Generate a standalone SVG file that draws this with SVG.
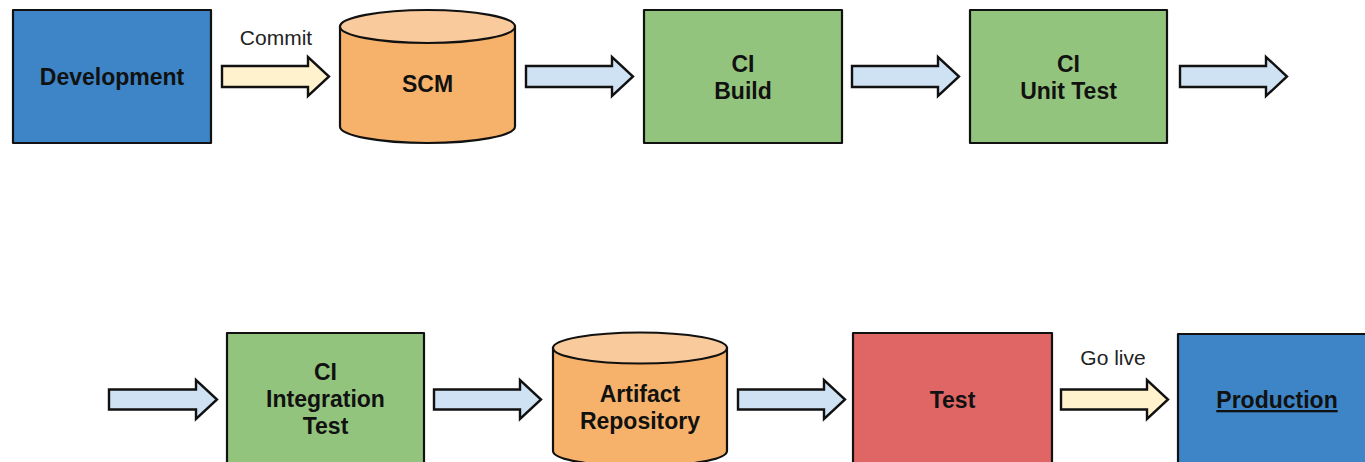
<svg xmlns="http://www.w3.org/2000/svg" width="1365" height="462" viewBox="0 0 1365 462">
<style>
.box{stroke:#111;stroke-width:2.2;stroke-linejoin:round}
.blue{fill:#3d85c6}.green{fill:#93c47d}.red{fill:#e06666}
.cyl{fill:#f6b26b;stroke:#111;stroke-width:2.2}
.cyltop{fill:#f9cb9c;stroke:#111;stroke-width:2.2}
.arr{stroke:#111;stroke-width:2.4;stroke-linejoin:miter}
.ab{fill:#cfe2f3}.ay{fill:#fff2cc}
.t{font-family:"Liberation Sans",Arial,sans-serif;font-weight:bold;font-size:23px;fill:#111;text-anchor:middle}
.l{font-family:"Liberation Sans",Arial,sans-serif;font-size:21px;fill:#222;text-anchor:middle}
</style>
<rect width="1365" height="462" fill="#fff"/>
<g id="connectors">
<path class="arr ay" d="M222,66 H308 V57 L329,76.5 L308,96 V87 H222 Z"/>
<path class="arr ab" d="M526,66 H612 V57 L633,76.5 L612,96 V87 H526 Z"/>
<path class="arr ab" d="M852,66 H938 V57 L959,76.5 L938,96 V87 H852 Z"/>
<path class="arr ab" d="M1180,66 H1266 V57 L1287,76.5 L1266,96 V87 H1180 Z"/>
<path class="arr ab" d="M109,389.5 H196 V380 L217,399.5 L196,419 V409.5 H109 Z"/>
<path class="arr ab" d="M434,389.5 H520 V380 L541,399.5 L520,419 V409.5 H434 Z"/>
<path class="arr ab" d="M738,389.5 H824 V380 L845,399.5 L824,419 V409.5 H738 Z"/>
<path class="arr ay" d="M1061,389.5 H1147 V380 L1168,399.5 L1147,419 V409.5 H1061 Z"/>
<text class="l" x="276" y="45">Commit</text>
<text class="l" x="1113" y="365">Go live</text>
</g>
<g id="development">
<rect class="box blue" x="13" y="10" width="198" height="133"/>
<text class="t" x="112" y="85">Development</text>
</g>
<g id="scm">
<path class="cyl" d="M340,26.5 V126.5 A87.5,16.5 0 0 0 515,126.5 V26.5 Z"/>
<ellipse class="cyltop" cx="427.5" cy="26.5" rx="87.5" ry="16.5"/>
<text class="t" x="427.5" y="92">SCM</text>
</g>
<g id="ci-build">
<rect class="box green" x="644" y="10" width="198" height="133"/>
<text class="t" x="743" y="72">CI</text>
<text class="t" x="743" y="99">Build</text>
</g>
<g id="ci-unit-test">
<rect class="box green" x="970" y="10" width="197" height="133"/>
<text class="t" x="1068.5" y="72">CI</text>
<text class="t" x="1068.5" y="99">Unit Test</text>
</g>
<g id="ci-integration-test">
<rect class="box green" x="227" y="333" width="197" height="140"/>
<text class="t" x="325.5" y="380">CI</text>
<text class="t" x="325.5" y="407">Integration</text>
<text class="t" x="325.5" y="434">Test</text>
</g>
<g id="artifact-repository">
<path class="cyl" d="M553,348 V451 A87,15.5 0 0 0 727,451 V348 Z"/>
<ellipse class="cyltop" cx="640" cy="348" rx="87" ry="15.5"/>
<text class="t" x="640" y="402">Artifact</text>
<text class="t" x="640" y="429">Repository</text>
</g>
<g id="test">
<rect class="box red" x="853" y="333" width="199" height="140"/>
<text class="t" x="952.5" y="408">Test</text>
</g>
<g id="production">
<rect class="box blue" x="1178" y="334" width="198" height="140"/>
<text class="t" x="1277" y="408" text-decoration="underline">Production</text>
</g>
</svg>
